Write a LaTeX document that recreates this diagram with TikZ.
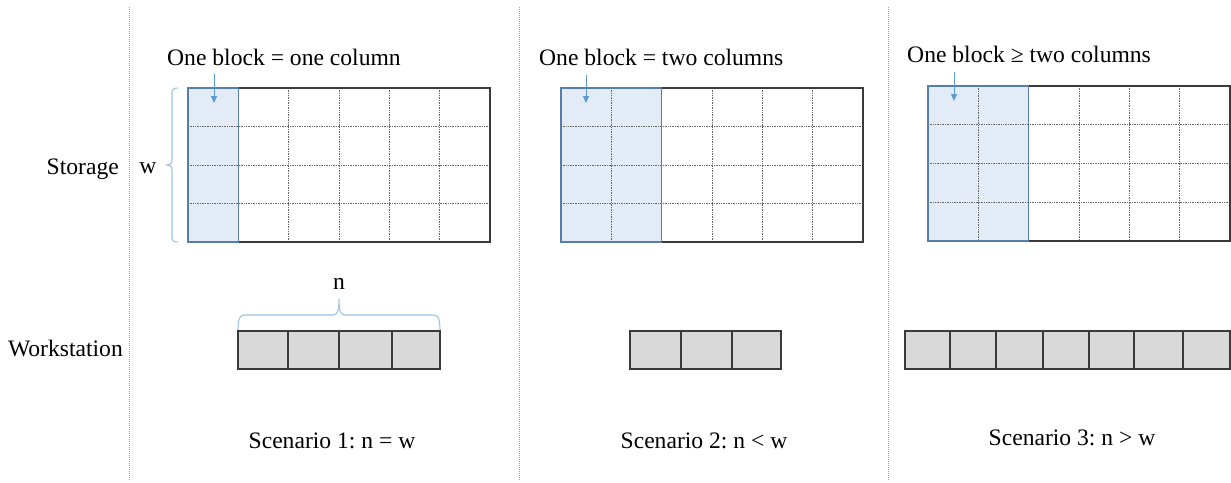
\documentclass[tikz,border=0pt]{standalone}
\usepackage{fontspec}
\setmainfont{Liberation Serif}
\newfontfamily\lblserif{Liberation Serif}
\usetikzlibrary{arrows.meta}
\definecolor{hlfill}{HTML}{E3ECF6}
\definecolor{hlborder}{HTML}{557FAA}
\definecolor{bracecol}{HTML}{9DC3E6}
\definecolor{arrcol}{HTML}{5B9BD5}
\definecolor{boxline}{HTML}{3A3A3A}
\definecolor{wsfill}{HTML}{D9D9D9}
\definecolor{divcol}{HTML}{A6A6A6}
\tikzset{
  lbl/.style={inner sep=0pt, font=\lblserif\fontsize{23.6}{28}\selectfont\frenchspacing, text=black},
  gridline/.style={draw=gray!80!black, line width=0.7pt, densely dotted},
  outerbox/.style={draw=boxline, line width=1.5pt},
  hilite/.style={fill=hlfill},
  hiliteborder/.style={draw=hlborder, line width=1.6pt},
  bracestyle/.style={draw=bracecol, line width=1.1pt},
  blockarrow/.style={draw=arrcol, line width=0.9pt, -{Triangle[width=6pt,length=7pt]}},
  wsbox/.style={draw=boxline, fill=wsfill, line width=2pt},
  divider/.style={draw=divcol, line width=1pt, densely dotted},
}
\newcommand\mystoregrid[5]{%
  % #1 x0, #2 top, #3 col width, #4 row height, #5 highlighted columns
  \fill[hilite] (#1,#2) rectangle ({#1+#5*#3},{#2+4*#4});
  \foreach \i in {1,...,5} \draw[gridline] ({#1+\i*#3},#2) -- ({#1+\i*#3},{#2+4*#4});
  \foreach \j in {1,2,3} \draw[gridline] (#1,{#2+\j*#4}) -- ({#1+6*#3},{#2+\j*#4});
  \draw[outerbox] (#1,#2) rectangle ({#1+6*#3},{#2+4*#4});
  \draw[hiliteborder] (#1,#2) rectangle ({#1+#5*#3},{#2+4*#4});
}
\begin{document}
\begin{tikzpicture}[x=1pt,y=-1pt]
\useasboundingbox (0,0) rectangle (1231,482);
\fill[white] (0,0) rectangle (1231,482);

% dividers
\coordinate (d1t) at (129,7); \coordinate (d1b) at (129,480);
\coordinate (d2t) at (519,7); \coordinate (d2b) at (519,480);
\coordinate (d3t) at (888,7); \coordinate (d3b) at (888,480);
\draw[divider] (d1t) -- (d1b);
\draw[divider] (d2t) -- (d2b);
\draw[divider] (d3t) -- (d3b);

% row labels
\node[lbl, anchor=base east] (storage) at (119,174) {Storage};
\node[lbl, anchor=base east] (workstation) at (123,356) {Workstation};

% grids
\mystoregrid{188}{88}{50.33}{38.5}{1}
\mystoregrid{561}{88}{50.33}{38.5}{2}
\mystoregrid{928}{86}{50.33}{38.75}{2}

% titles
\node[lbl, anchor=base west] (t1) at (167,65) {One block = one column};
\node[lbl, anchor=base west] (t2) at (539,65) {One block = two columns};
\node[lbl, anchor=base west] (t3) at (907,62) {One block ≥ two columns};

% arrows
\coordinate (a1s) at (214,74); \coordinate (a1e) at (214,103);
\coordinate (a2s) at (586,75); \coordinate (a2e) at (586,103);
\coordinate (a3s) at (954,72); \coordinate (a3e) at (954,101);
\draw[blockarrow] (a1s) -- (a1e);
\draw[blockarrow] (a2s) -- (a2e);
\draw[blockarrow] (a3s) -- (a3e);

% w brace
\node[lbl, anchor=base] (w) at (148,173) {w};
\draw[bracestyle] (178,88) .. controls (174,88) and (172,89) .. (172,93) -- (172,160)
  .. controls (172,164) and (170,165) .. (166,165)
  .. controls (170,165) and (172,166) .. (172,170) -- (172,237)
  .. controls (172,241) and (174,242) .. (178,242);

% n brace
\node[lbl, anchor=base] (n) at (339,289) {n};
\draw[bracestyle] (238,331) .. controls (238,318) and (240,315) .. (245,315) -- (333,315)
  .. controls (337,315) and (339,312) .. (339,299)
  .. controls (339,312) and (341,315) .. (345,315) -- (433,315)
  .. controls (438,315) and (440,318) .. (440,331);

% workstations
\foreach \a/\b in {238/288, 288/339, 339/392, 392/440}
  \draw[wsbox] (\a,331) rectangle (\b,369);
\foreach \a/\b in {630/681, 681/732, 732/781}
  \draw[wsbox] (\a,331) rectangle (\b,369);
\foreach \a/\b in {905/950, 950/996, 996/1043, 1043/1089, 1089/1134, 1134/1183, 1183/1230}
  \draw[wsbox] (\a,331) rectangle (\b,369);

% scenario labels
\node[lbl, anchor=base] (s1) at (332,448) {Scenario 1: n = w};
\node[lbl, anchor=base] (s2) at (704,448) {Scenario 2: n < w};
\node[lbl, anchor=base] (s3) at (1072,445) {Scenario 3: n > w};
\end{tikzpicture}
\end{document}
